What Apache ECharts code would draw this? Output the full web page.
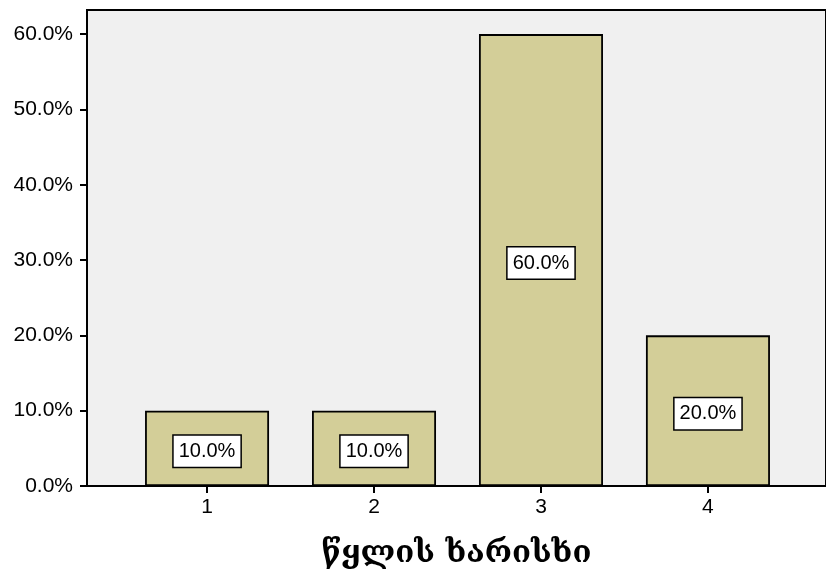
<!DOCTYPE html>
<html><head><meta charset="utf-8">
<script src="https://cdn.jsdelivr.net/npm/echarts@6/dist/echarts.min.js"></script>
<style>html,body{margin:0;padding:0;background:#fff}#c{width:826px;height:576px}</style>
</head><body><div id="c"></div>
<script>
const categories = [1, 2, 3, 4];
const percents = [10.0, 10.0, 60.0, 20.0];
const yTicks = [0, 10, 20, 30, 40, 50, 60];
const xTitle = 'წყლის ხარისხი';

const chart = echarts.init(document.getElementById('c'), null, {renderer: 'canvas'});
chart.setOption({
  animation: false,
  grid: {left: 87, top: 10, right: -1, bottom: 90, show: true, backgroundColor: '#F0F0F0', borderColor: '#000', borderWidth: 2},
  xAxis: {
    type: 'value', min: 0.281, max: 4.707,
    axisLine: {show: true, onZero: false, lineStyle: {color: '#000', width: 2}},
    axisTick: {show: true, length: 7, lineStyle: {color: '#000', width: 2}, customValues: categories},
    axisLabel: {color: '#000', fontSize: 21, fontFamily: 'Liberation Sans, Arial', margin: 11, customValues: categories, formatter: v => String(v)},
    splitLine: {show: false},
    name: xTitle, nameLocation: 'middle', nameGap: 52,
    nameTextStyle: {color: '#000', fontSize: 31, fontWeight: 'bold', fontFamily: 'DejaVu Serif, DejaVu Sans'}
  },
  yAxis: {
    type: 'value', min: 0, max: 63.2,
    axisLine: {show: true, lineStyle: {color: '#000', width: 2}},
    axisTick: {show: true, length: 7, lineStyle: {color: '#000', width: 2}, customValues: yTicks},
    axisLabel: {color: '#000', fontSize: 21, fontFamily: 'Liberation Sans, Arial', margin: 14, customValues: yTicks, formatter: v => v.toFixed(1) + '%'},
    splitLine: {show: false}
  },
  series: [{
    type: 'bar',
    barWidth: 124,
    data: categories.map((c, i) => [c, percents[i]]),
    itemStyle: {color: '#D3CE98', borderColor: '#000', borderWidth: 1.8},
    label: {
      show: true, position: 'inside', offset: [0, 3], color: '#000', fontSize: 20, fontFamily: 'Liberation Sans, Arial',
      backgroundColor: '#fff', borderColor: '#000', borderWidth: 1.5, padding: [6, 5, 5, 5],
      formatter: p => p.value[1].toFixed(1) + '%'
    }
  }]
});
</script></body></html>
